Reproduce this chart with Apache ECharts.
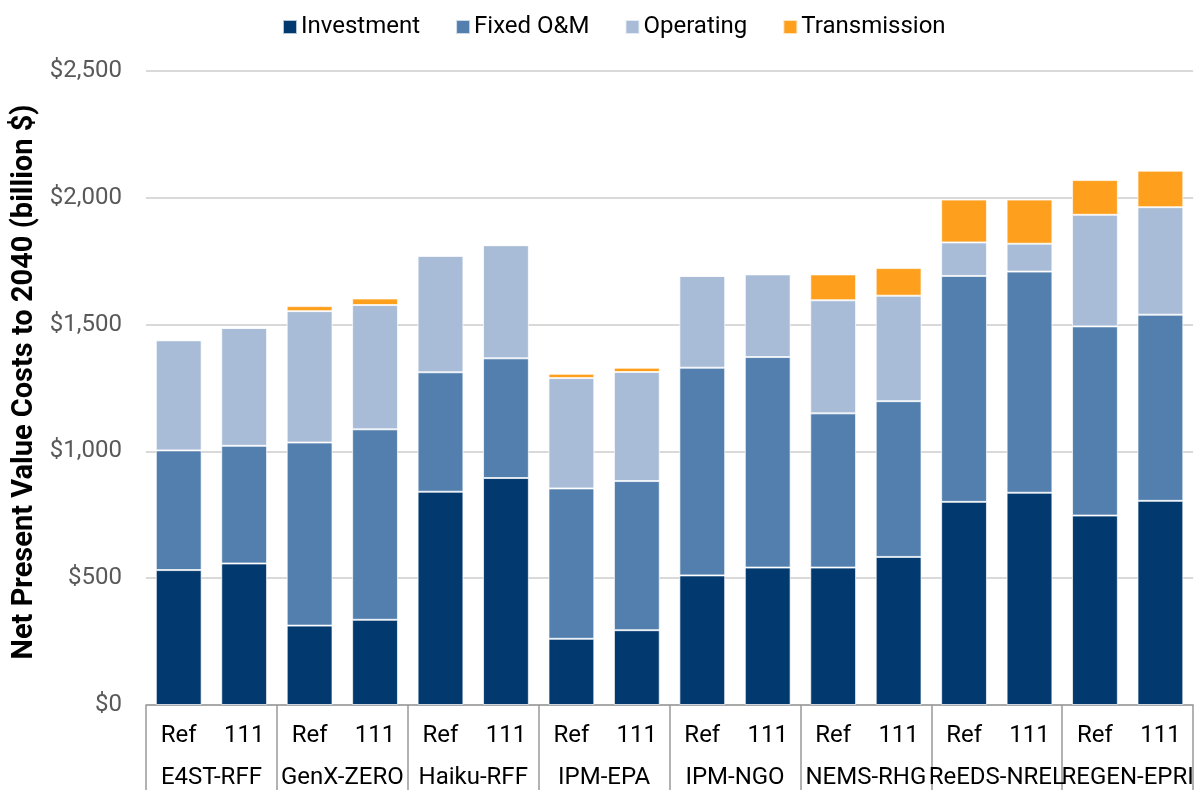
<!DOCTYPE html>
<html>
<head>
<meta charset="utf-8">
<script src="https://cdn.jsdelivr.net/npm/echarts@6/dist/echarts.min.js"></script>
<style>
  html, body { margin: 0; padding: 0; background: #fff; }
  #chart { width: 1196px; height: 790px; }
</style>
</head>
<body>
<div id="chart"></div>
<script>
// scenario labels under each bar, and model groups (two bars each)
const scenarios = ['Ref', '111', 'Ref', '111', 'Ref', '111', 'Ref', '111',
                   'Ref', '111', 'Ref', '111', 'Ref', '111', 'Ref', '111']
const models = ['E4ST-RFF', 'GenX-ZERO', 'Haiku-RFF', 'IPM-EPA',
                'IPM-NGO', 'NEMS-RHG', 'ReEDS-NREL', 'REGEN-EPRI']

// billion $
const investment   = [532, 558, 313, 336, 841, 895, 261, 295, 511, 542, 542, 584, 801, 837, 747, 805]
const fixedOM      = [472, 464, 722, 751, 471, 472, 593, 588, 819, 830, 608, 614, 891, 872, 746, 734]
const operating    = [434, 465, 518, 490, 459, 446, 435, 430, 362, 326, 446, 416, 132, 110, 440, 424]
const transmission = [0, 0, 20, 26, 0, 0, 17, 17, 0, 0, 102, 109, 169, 174, 137, 144]

const yTicks = { min: 0, max: 2500, interval: 500 }

const font = 'Roboto'
const colors = ['#023a70', '#527fae', '#a8bcd7', '#fea01e']

const chart = echarts.init(document.getElementById('chart'))

function barSeries(name, data) {
  return {
    name: name,
    type: 'bar',
    stack: 'total',
    xAxisIndex: 0,
    barCategoryGap: '30%',
    itemStyle: { borderColor: 'rgba(255,255,255,0.7)', borderWidth: 1 },
    data: data
  }
}

chart.setOption({
  animation: false,
  color: colors,
  textStyle: { fontFamily: font },
  legend: {
    top: 10,
    left: 277,
    itemWidth: 14,
    itemHeight: 14,
    itemGap: 35,
    icon: 'rect',
    textStyle: { fontSize: 24, color: '#000', fontFamily: font, padding: [0, 0, 0, -1] },
    data: ['Investment', 'Fixed O&M', 'Operating', 'Transmission']
  },
  grid: { left: 146, right: -10, top: 71, bottom: 83 },
  xAxis: [
    {
      type: 'category',
      data: scenarios,
      axisLine: { show: true, lineStyle: { color: '#999', width: 1.5 } },
      axisTick: { show: false },
      axisLabel: { interval: 0, fontSize: 24, color: '#000', margin: 19, fontFamily: font }
    },
    {
      type: 'category',
      position: 'bottom',
      data: models,
      axisLine: { show: false },
      axisTick: { show: true, length: 90, interval: 0, lineStyle: { color: '#999', width: 1.5 } },
      axisLabel: { interval: 0, fontSize: 24, color: '#000', margin: 61, fontFamily: font }
    }
  ],
  yAxis: {
    type: 'value',
    min: yTicks.min,
    max: yTicks.max,
    interval: yTicks.interval,
    name: 'Net Present Value Costs to 2040 (billion $)',
    nameLocation: 'middle',
    nameGap: 102,
    nameTextStyle: { fontSize: 29, fontWeight: 'bold', color: '#000', fontFamily: font, padding: [0, 0, 0, 12] },
    axisLine: { show: false },
    axisTick: { show: false },
    axisLabel: {
      fontSize: 24,
      color: '#595959',
      margin: 24,
      fontFamily: font,
      formatter: v => '$' + v.toLocaleString('en-US')
    },
    splitLine: { lineStyle: { color: '#d9d9d9', width: 2 } }
  },
  series: [
    barSeries('Investment', investment),
    barSeries('Fixed O&M', fixedOM),
    barSeries('Operating', operating),
    barSeries('Transmission', transmission)
  ]
})
</script>
</body>
</html>
